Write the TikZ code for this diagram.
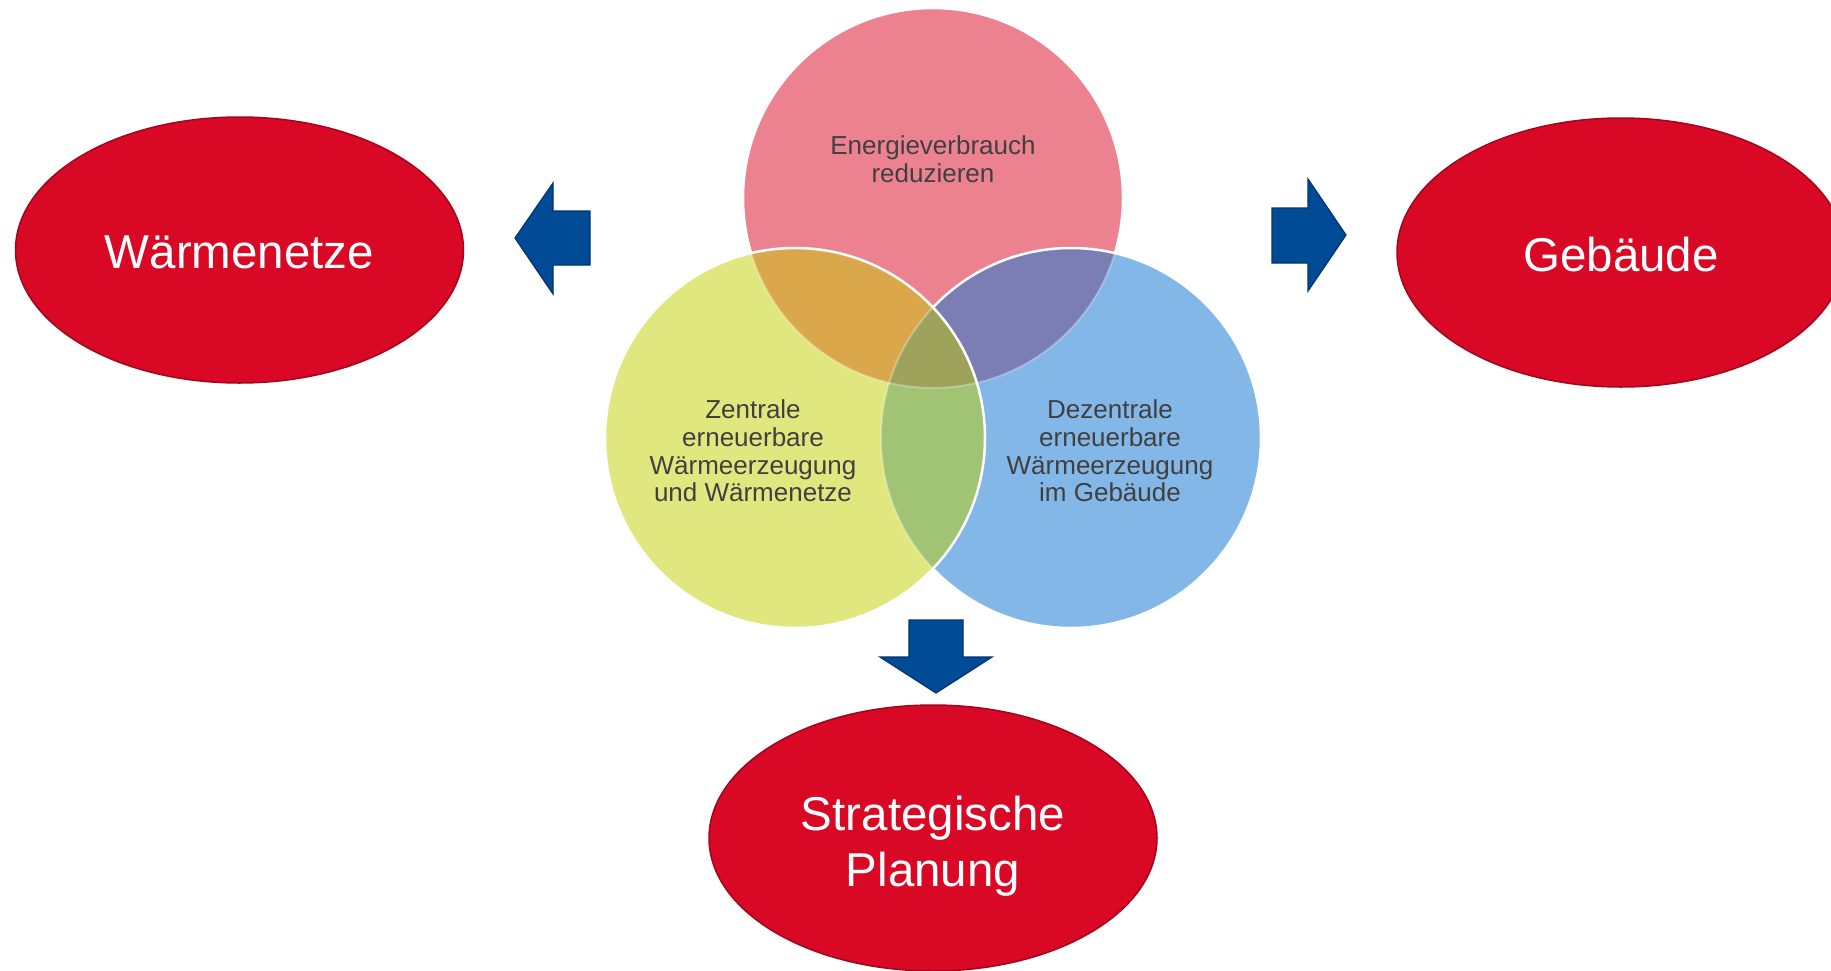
\documentclass[tikz,border=0pt]{standalone}
\usepackage{fontspec}
\setmainfont{Liberation Sans}
\usetikzlibrary{shapes.geometric}
\definecolor{pinkc}{HTML}{EC8290}
\definecolor{yellowc}{HTML}{E1E77F}
\definecolor{bluec}{HTML}{82B7E8}
\definecolor{orangec}{HTML}{DAA84A}
\definecolor{purplec}{HTML}{7A7EB4}
\definecolor{greenc}{HTML}{A0C473}
\definecolor{olivec}{HTML}{9EA35B}
\definecolor{redc}{HTML}{D90824}
\definecolor{redborder}{HTML}{A0061E}
\definecolor{arrowc}{HTML}{004A96}
\definecolor{arrowborder}{HTML}{00336E}
\definecolor{textgrey}{HTML}{404040}
\begin{document}
\begin{tikzpicture}[x=1pt,y=-1pt,
  redell/.style={ellipse, fill=redc, draw=redborder, line width=1.5pt,
    minimum width=448pt, minimum height=266pt, inner sep=0pt},
  bigtext/.style={text=white, align=center, font=\fontsize{47.5}{56}\selectfont, inner sep=0pt},
  circtext/.style={text=textgrey, align=center, font=\fontsize{26}{27.7}\selectfont, inner sep=0pt},
  bigarrow/.style={fill=arrowc, draw=arrowborder, line width=1.2pt, line join=miter},
  edge/.style={draw=white, line width=2.5pt},
  faint/.style={draw=white, draw opacity=0.3, line width=2pt}]
\useasboundingbox (0,0) rectangle (1831,970);
\coordinate (P) at (933,198);
\coordinate (Y) at (795,438);
\coordinate (B) at (1071,438);
% pink circle
\fill[pinkc] (P) circle[radius=190pt];
\draw[edge] (P) circle[radius=190pt];
% blue circle
\fill[bluec] (B) circle[radius=190pt];
\begin{scope}
  \clip (P) circle[radius=190pt];
  \fill[purplec] (B) circle[radius=190pt];
\end{scope}
\begin{scope}
  \clip (B) circle[radius=190pt];
  \draw[faint] (P) circle[radius=190pt];
\end{scope}
\draw[edge] (B) circle[radius=190pt];
% yellow circle
\fill[yellowc] (Y) circle[radius=190pt];
\begin{scope}
  \clip (Y) circle[radius=190pt];
  \fill[orangec] (P) circle[radius=190pt];
  \fill[greenc] (B) circle[radius=190pt];
  \begin{scope}
    \clip (P) circle[radius=190pt];
    \fill[olivec] (B) circle[radius=190pt];
  \end{scope}
  \draw[faint] (P) circle[radius=190pt];
  \draw[faint] (B) circle[radius=190pt];
\end{scope}
\draw[edge] (Y) circle[radius=190pt];
% circle texts
\node[circtext] (tp) at (933,159) {Energieverbrauch\\reduzieren};
\node[circtext] (ty) at (753,451) {Zentrale\\erneuerbare\\Wärmeerzeugung\\und Wärmenetze};
\node[circtext] (tb) at (1110,451) {Dezentrale\\erneuerbare\\Wärmeerzeugung\\im Gebäude};
% arrows
\draw[bigarrow] (515,238) -- (553,183) -- (553,211) -- (590,211) -- (590,265) -- (553,265) -- (553,294) -- cycle;
\draw[bigarrow] (1346,235) -- (1308,179) -- (1308,208) -- (1272,208) -- (1272,263) -- (1308,263) -- (1308,291) -- cycle;
\draw[bigarrow] (936,693) -- (880,657) -- (909,657) -- (909,620) -- (963,620) -- (963,657) -- (992,657) -- cycle;
% red ellipses
\node[redell] (waerme) at (239.5,250) {};
\node[redell, minimum height=269pt] (gebaeude) at (1621,252.5) {};
\node[redell] (strat) at (933,838) {};
\node[bigtext] (waerme-t) at ([yshift=-2pt]waerme.center) {Wärmenetze};
\node[bigtext] (gebaeude-t) at ([yshift=-2pt]gebaeude.center) {Gebäude};
\node[bigtext] (strat-t) at ([yshift=-8pt]strat.center) {Strategische\\Planung};
\end{tikzpicture}
\end{document}
